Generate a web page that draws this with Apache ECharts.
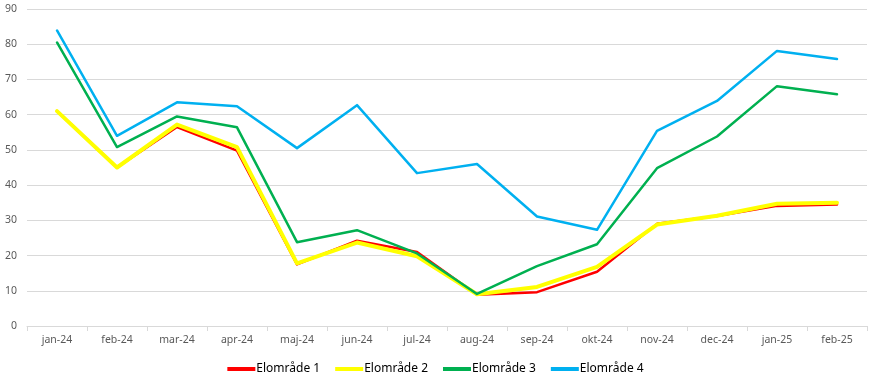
<!DOCTYPE html>
<html>
<head>
<meta charset="utf-8">
<script src="https://cdn.jsdelivr.net/npm/echarts@6/dist/echarts.min.js"></script>
<style>html,body{margin:0;padding:0;background:#fff}#c{width:871px;height:382px}</style>
</head>
<body>
<div id="c"></div>
<script>
const categories = ['jan-24','feb-24','mar-24','apr-24','maj-24','jun-24','jul-24','aug-24','sep-24','okt-24','nov-24','dec-24','jan-25','feb-25'];
const seriesNames = ['Elområde 1','Elområde 2','Elområde 3','Elområde 4'];
const elomrade1 = [61.0, 45.0, 56.5, 49.8, 17.5, 24.2, 21.0, 8.9, 9.6, 15.4, 29.0, 31.2, 34.1, 34.5];
const elomrade2 = [61.0, 45.0, 57.2, 50.8, 17.8, 23.7, 19.8, 9.0, 11.1, 16.8, 28.8, 31.3, 34.7, 35.0];
const elomrade3 = [80.5, 50.8, 59.5, 56.4, 23.8, 27.2, 20.6, 9.1, 17.0, 23.2, 44.8, 53.8, 68.1, 65.8];
const elomrade4 = [83.9, 54.0, 63.5, 62.4, 50.5, 62.7, 43.4, 46.0, 31.1, 27.3, 55.4, 63.9, 78.1, 75.8];
const yTicks = {min: 0, max: 90, interval: 10};

const colors = ['#FF0000','#FFFF00','#00B050','#00B0F0'];
const widths = [2.5, 4, 2.5, 2.5];
const data = [elomrade1, elomrade2, elomrade3, elomrade4];

const chart = echarts.init(document.getElementById('c'), null, {renderer:'canvas'});
chart.setOption({
  animation: false,
  color: colors,
  grid: {left: 27, right: 4, top: 9, bottom: 56, containLabel: false},
  legend: {
    bottom: 2, left: 'center',
    itemWidth: 28, itemHeight: 4, itemGap: 15,
    icon: 'rect',
    textStyle: {color: '#000', fontSize: 12, fontFamily: 'Noto Sans', padding: [0,0,0,-4]},
    data: seriesNames
  },
  xAxis: {
    type: 'category', data: categories, boundaryGap: true,
    axisLine: {lineStyle: {color: '#D9D9D9', width: 1}},
    axisTick: {show: true, length: 5, lineStyle: {color: '#D9D9D9'}},
    axisLabel: {color: '#595959', fontSize: 10.5, fontFamily: 'Noto Sans', margin: 9}
  },
  yAxis: {
    type: 'value', min: yTicks.min, max: yTicks.max, interval: yTicks.interval,
    axisLine: {show: false}, axisTick: {show: false},
    splitLine: {lineStyle: {color: '#D9D9D9', width: 1}},
    axisLabel: {color: '#595959', fontSize: 10.5, fontFamily: 'Noto Sans', margin: 10}
  },
  series: seriesNames.map((n, i) => ({
    name: n, type: 'line', data: data[i], symbol: 'none',
    lineStyle: {color: colors[i], width: widths[i], join: 'round', cap: 'round'},
    itemStyle: {color: colors[i]}
  }))
});
</script>
</body>
</html>
